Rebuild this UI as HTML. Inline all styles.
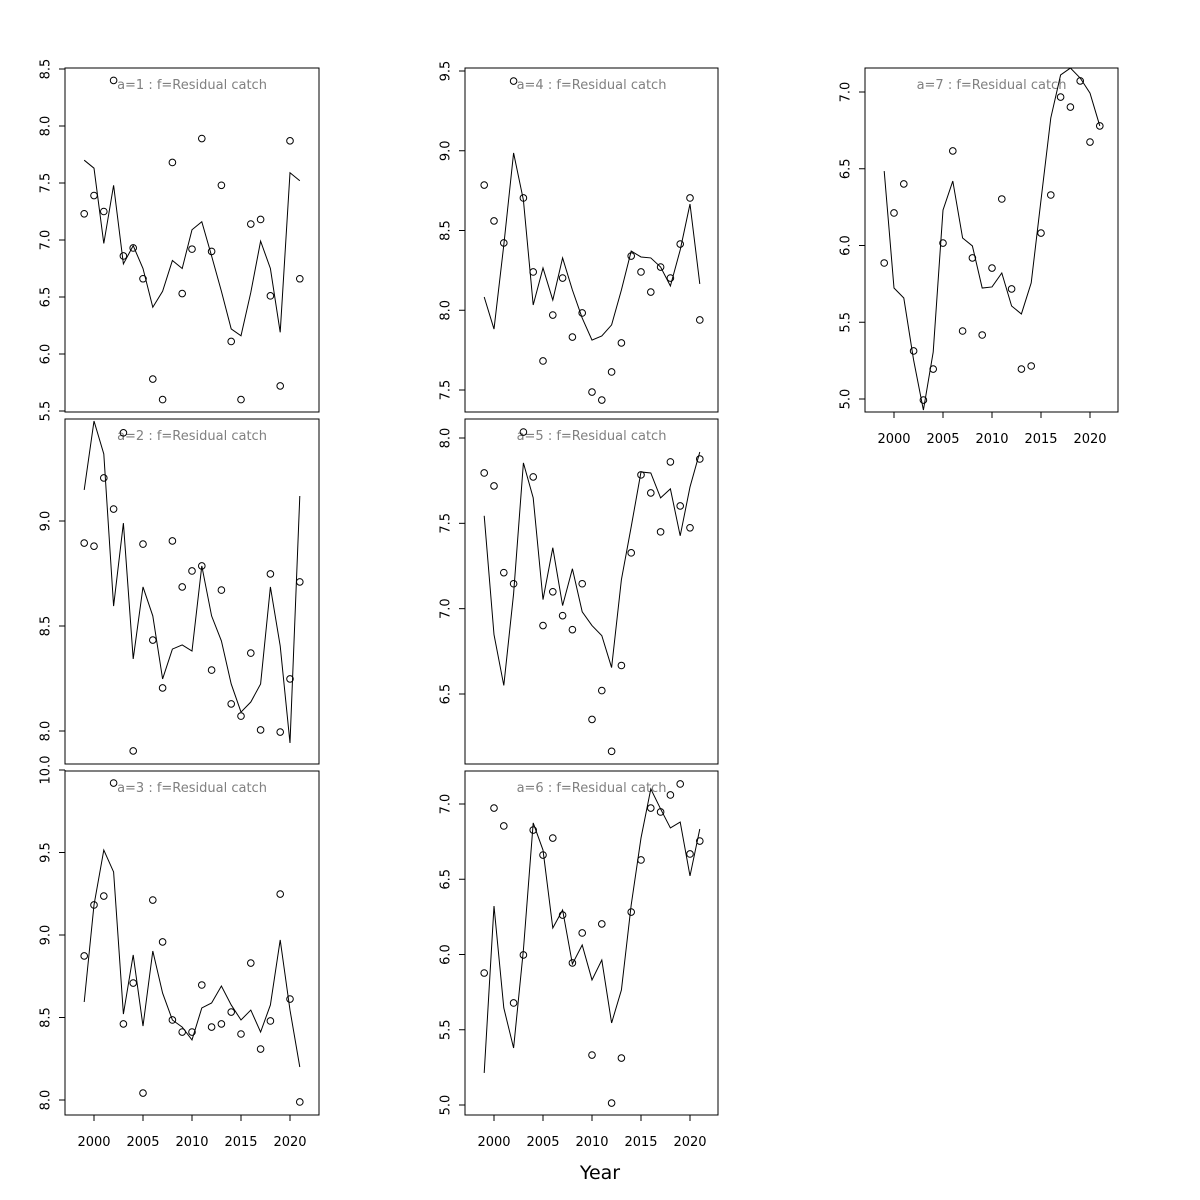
<!DOCTYPE html>
<html><head><meta charset="utf-8"><style>
html,body{margin:0;padding:0;background:#fff;}
svg{display:block;font-family:"DejaVu Sans","Liberation Sans",sans-serif;}
</style></head><body>
<svg id="chart" width="1200" height="1200" viewBox="0 0 1200 1200" xmlns="http://www.w3.org/2000/svg">
<rect width="1200" height="1200" fill="#fff"/>
<text x="600" y="1179" font-size="19" text-anchor="middle">Year</text>
</svg>
<script>
const years = [1999,2000,2001,2002,2003,2004,2005,2006,2007,2008,2009,2010,2011,2012,2013,2014,2015,2016,2017,2018,2019,2020,2021];
const xTicks = [2000,2005,2010,2015,2020];
const obs1 = [7.23,7.39,7.25,8.40,6.86,6.93,6.66,5.78,5.60,7.68,6.53,6.92,7.89,6.90,7.48,6.11,5.60,7.14,7.18,6.51,5.72,7.87,6.66];
const fit1 = [7.70,7.63,6.97,7.48,6.79,6.95,6.75,6.41,6.55,6.82,6.75,7.09,7.16,6.86,6.55,6.22,6.16,6.54,6.99,6.75,6.19,7.59,7.52];
const obs2 = [8.895,8.88,9.205,9.057,9.42,7.905,8.89,8.433,8.205,8.905,8.686,8.762,8.786,8.29,8.671,8.129,8.071,8.371,8.005,8.748,7.995,8.248,8.71];
const fit2 = [9.148,9.476,9.319,8.595,8.99,8.343,8.686,8.548,8.248,8.39,8.41,8.381,8.786,8.548,8.429,8.224,8.09,8.138,8.224,8.686,8.405,7.943,9.119];
const obs3 = [8.873,9.182,9.236,9.921,8.461,8.709,8.042,9.212,8.958,8.485,8.412,8.412,8.697,8.442,8.461,8.533,8.4,8.83,8.309,8.479,9.248,8.612,7.988];
const fit3 = [8.594,9.182,9.515,9.382,8.521,8.879,8.448,8.903,8.648,8.485,8.442,8.364,8.558,8.588,8.691,8.576,8.485,8.545,8.412,8.576,8.97,8.545,8.2];
const obs4 = [8.785,8.56,8.422,9.437,8.704,8.24,7.682,7.97,8.202,7.832,7.983,7.487,7.437,7.613,7.795,8.34,8.24,8.114,8.271,8.202,8.415,8.704,7.939];
const fit4 = [8.083,7.882,8.409,8.986,8.691,8.033,8.265,8.064,8.328,8.127,7.951,7.813,7.839,7.908,8.127,8.371,8.334,8.328,8.271,8.152,8.378,8.666,8.165];
const obs5 = [7.795,7.719,7.211,7.146,8.035,7.772,6.901,7.099,6.959,6.877,7.146,6.351,6.52,6.164,6.667,7.327,7.784,7.678,7.45,7.86,7.602,7.474,7.877];
const fit5 = [7.544,6.848,6.55,7.088,7.854,7.649,7.053,7.357,7.018,7.234,6.982,6.901,6.842,6.655,7.17,7.48,7.801,7.795,7.649,7.702,7.427,7.713,7.918];
const obs6 = [5.877,6.973,6.854,5.678,5.997,6.827,6.661,6.774,6.262,5.944,6.143,5.332,6.203,5.013,5.312,6.282,6.628,6.973,6.947,7.06,7.133,6.668,6.754];
const fit6 = [5.213,6.322,5.645,5.379,6.03,6.874,6.694,6.176,6.296,5.937,6.063,5.831,5.963,5.545,5.764,6.329,6.774,7.1,6.967,6.841,6.88,6.522,6.834];
const obs7 = [5.886,6.212,6.401,5.313,4.993,5.195,6.016,6.616,5.443,5.919,5.417,5.853,6.303,5.717,5.195,5.215,6.081,6.329,6.967,6.902,7.072,6.674,6.779];
const fit7 = [6.485,5.723,5.658,5.254,4.928,5.306,6.231,6.42,6.049,5.997,5.723,5.73,5.821,5.606,5.554,5.756,6.296,6.831,7.111,7.156,7.091,6.993,6.779];
const yTicks1 = [5.5,6.0,6.5,7.0,7.5,8.0,8.5];
const yTicks2 = [8.0,8.5,9.0];
const yTicks3 = [8.0,8.5,9.0,9.5,10.0];
const yTicks4 = [7.5,8.0,8.5,9.0,9.5];
const yTicks5 = [6.5,7.0,7.5,8.0];
const yTicks6 = [5.0,5.5,6.0,6.5,7.0];
const yTicks7 = [5.0,5.5,6.0,6.5,7.0];

const NS = "http://www.w3.org/2000/svg";
const svg = document.getElementById('chart');
function mk(tag, attrs, parent){
  const e = document.createElementNS(NS, tag);
  for (const k in attrs) e.setAttribute(k, attrs[k]);
  parent.appendChild(e);
  return e;
}
// panel: id, label, box, y-scale reference (v0 at p0, v1 at p1), ticks, data, showX
const panels = [
  {a:1,x0:65,x1:319,y0:68,y1:412,v0:8.5,p0:69,v1:5.5,p1:411,ticks:yTicks1,obs:obs1,fit:fit1,showX:false},
  {a:2,x0:65,x1:319,y0:419,y1:764,v0:9.0,p0:521,v1:8.0,p1:731,ticks:yTicks2,obs:obs2,fit:fit2,showX:false},
  {a:3,x0:65,x1:319,y0:771,y1:1115,v0:10.0,p0:770,v1:8.0,p1:1100,ticks:yTicks3,obs:obs3,fit:fit3,showX:true},
  {a:4,x0:465,x1:718,y0:68,y1:412,v0:9.5,p0:71,v1:7.5,p1:390,ticks:yTicks4,obs:obs4,fit:fit4,showX:false},
  {a:5,x0:465,x1:718,y0:419,y1:764,v0:8.0,p0:438,v1:6.5,p1:694,ticks:yTicks5,obs:obs5,fit:fit5,showX:false},
  {a:6,x0:465,x1:718,y0:771,y1:1115,v0:7.0,p0:804,v1:5.0,p1:1105,ticks:yTicks6,obs:obs6,fit:fit6,showX:true},
  {a:7,x0:865,x1:1118,y0:68,y1:412,v0:7.0,p0:92,v1:5.0,p1:399,ticks:yTicks7,obs:obs7,fit:fit7,showX:true}
];
panels.forEach(p => {
  const g = mk('g', {}, svg);
  
  
  const off = p.x0 - 65;
  const xs = yr => off + 94 + (yr - 2000) * 9.8;
  const ys = v => p.p0 + (v - p.v0) * (p.p1 - p.p0) / (p.v1 - p.v0);
  const box = mk('rect', {x:p.x0, y:p.y0, width:p.x1-p.x0, height:p.y1-p.y0, fill:'none', stroke:'#000', 'stroke-width':1}, g);
  
  
  const title = mk('text', {x:(p.x0+p.x1)/2, y:p.y0+21, 'font-size':13, fill:'#808080', 'text-anchor':'middle'}, g);
  title.textContent = 'a=' + p.a + '  :  f=Residual catch';
  
  
  // y axis
  const ya = mk('g', {}, g);
  
  
  const tmin = ys(p.ticks[0]), tmax = ys(p.ticks[p.ticks.length-1]);
  mk('line', {x1:p.x0, x2:p.x0, y1:tmin, y2:tmax, stroke:'#000'}, ya);
  p.ticks.forEach(t => {
    const y = ys(t);
    mk('line', {x1:p.x0-6, x2:p.x0, y1:y, y2:y, stroke:'#000'}, ya);
    const tx = mk('text', {x:p.x0-19, y:y, 'font-size':13, 'text-anchor':'middle', transform:'rotate(-90 '+(p.x0-19)+' '+y+')', 'dominant-baseline':'central'}, ya);
    tx.textContent = t.toFixed(1);
    
    
  });
  if (p.showX) {
    const xa = mk('g', {}, g);
    
    
    mk('line', {x1:xs(xTicks[0]), x2:xs(xTicks[xTicks.length-1]), y1:p.y1, y2:p.y1, stroke:'#000'}, xa);
    xTicks.forEach(t => {
      mk('line', {x1:xs(t), x2:xs(t), y1:p.y1, y2:p.y1+6, stroke:'#000'}, xa);
      const tx = mk('text', {x:xs(t), y:p.y1+31, 'font-size':13, 'text-anchor':'middle'}, xa);
      tx.textContent = t;
      
      
    });
  }
  const line = mk('polyline', {points: years.map((yr,i)=>xs(yr)+','+ys(p.fit[i])).join(' '), fill:'none', stroke:'#000', 'stroke-width':1}, g);
  
  
  years.forEach((yr,i) => {
    const c = mk('circle', {cx:xs(yr), cy:ys(p.obs[i]), r:3.3, fill:'none', stroke:'#000', 'stroke-width':1}, g);
    
    
  });
});
</script>
</body></html>
